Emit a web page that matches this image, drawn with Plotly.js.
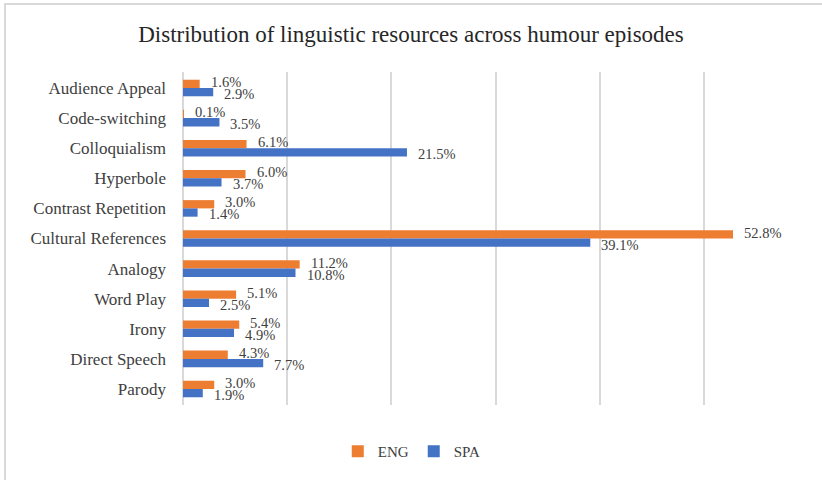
<!DOCTYPE html>
<html>
<head>
<meta charset="utf-8">
<script src="https://cdn.plot.ly/plotly-3.0.1.min.js"></script>
<style>
html,body{margin:0;padding:0;background:#fff;}
#frame{position:absolute;left:4px;top:3px;width:818px;height:477px;border-top:2px solid #d9d9d9;border-left:2px solid #d9d9d9;box-sizing:border-box;}
#chart{position:absolute;left:0;top:0;width:822px;height:480px;}
</style>
</head>
<body>
<div id="frame"></div>
<div id="chart"></div>
<script>
const categories = ["Audience Appeal","Code-switching","Colloquialism","Hyperbole","Contrast Repetition","Cultural References","Analogy","Word Play","Irony","Direct Speech","Parody"];
const engValues = [1.6,0.1,6.1,6.0,3.0,52.8,11.2,5.1,5.4,4.3,3.0];
const spaValues = [2.9,3.5,21.5,3.7,1.4,39.1,10.8,2.5,4.9,7.7,1.9];
const xTicks = [0,10,20,30,40,50,60];

const serif = "Liberation Serif, DejaVu Serif, serif";
const lbl = v => v.toFixed(1) + "%";

const traces = [
  {type:"bar", orientation:"h", name:"ENG", y:categories, x:engValues,
   marker:{color:"#ed7d31"}, hoverinfo:"x+y"},
  {type:"bar", orientation:"h", name:"SPA", y:categories, x:spaValues,
   marker:{color:"#4472c4"}, hoverinfo:"x+y"}
];

const annotations = [];
categories.forEach((c, i) => {
  annotations.push({x:engValues[i], y:c, xref:"x", yref:"y", text:lbl(engValues[i]),
    showarrow:false, xanchor:"left", yanchor:"middle", xshift:9, yshift:6,
    font:{family:serif, size:14.5, color:"#404040"}});
  annotations.push({x:spaValues[i], y:c, xref:"x", yref:"y", text:lbl(spaValues[i]),
    showarrow:false, xanchor:"left", yanchor:"middle", xshift:9, yshift:-6,
    font:{family:serif, size:14.5, color:"#404040"}});
});

const layout = {
  width:822, height:480,
  paper_bgcolor:"rgba(0,0,0,0)", plot_bgcolor:"rgba(0,0,0,0)",
  margin:{l:183, r:14, t:72, b:67},
  title:{text:"Distribution of linguistic resources across humour episodes",
         font:{family:serif, size:23, color:"#262626"}, x:0.5, xanchor:"center", y:0.93, yanchor:"middle"},
  barmode:"group", bargap:0.45, bargroupgap:0,
  xaxis:{range:[0,60], tickvals:xTicks, showticklabels:false, showgrid:true,
         gridcolor:"#d9d9d9", gridwidth:2, zeroline:true, zerolinecolor:"#d9d9d9", zerolinewidth:2,
         fixedrange:true},
  yaxis:{type:"category", autorange:"reversed", showgrid:false, zeroline:false,
         tickfont:{family:serif, size:17, color:"#404040"}, ticks:"", ticklen:0, automargin:false,
         ticklabelstandoff:16, fixedrange:true},
  annotations: annotations,
  showlegend:true,
  legend:{orientation:"h", x:0.366, xanchor:"center", y:-0.09, yanchor:"top", traceorder:"normal",
          font:{family:serif, size:15, color:"#404040"}, itemwidth:30, tracegroupgap:0},
  font:{family:serif}
};

Plotly.newPlot("chart", traces, layout, {displayModeBar:false, staticPlot:true});
</script>
</body>
</html>
